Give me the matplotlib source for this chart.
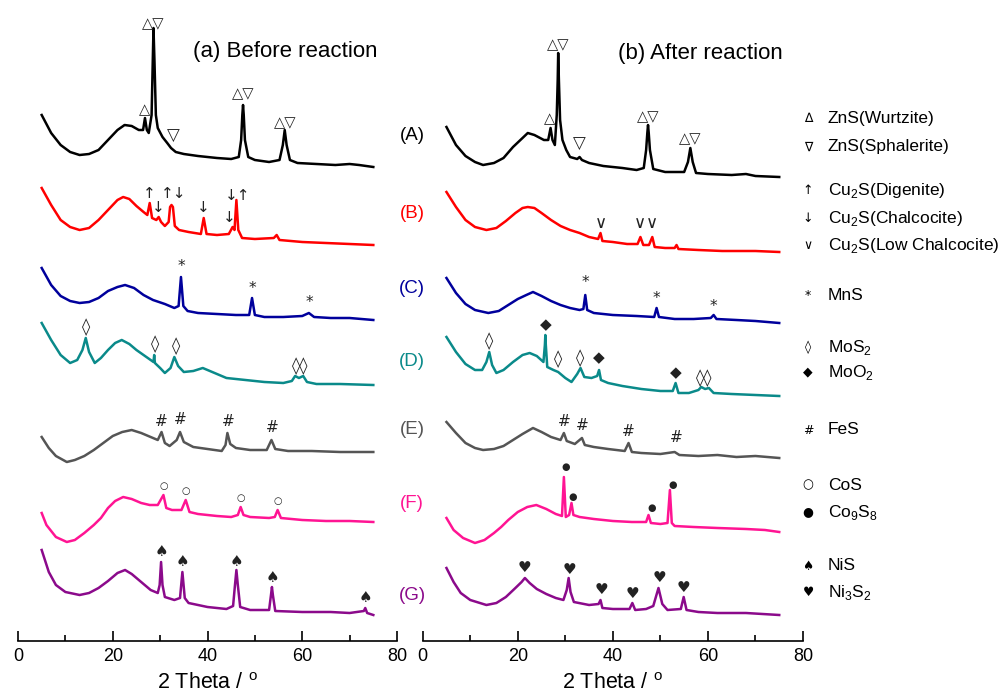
import numpy as np
import matplotlib.pyplot as plt
from matplotlib.ticker import MultipleLocator

plt.rcParams['font.family'] = ['Liberation Sans', 'DejaVu Sans']
plt.rcParams['mathtext.fontset'] = 'custom'
plt.rcParams['mathtext.rm'] = 'Liberation Sans'

# XRD patterns, intensity (a.u.) measured above the tail of each pattern
# ---- (a) before reaction ----
bA_x = [5, 7, 9, 11, 13, 15, 17, 19, 21, 22.5, 24, 25.5, 26.4, 26.8, 27.2, 27.6, 28.2, 28.45, 28.6, 28.8,
        29.1, 29.5, 30.5, 31.5, 32.3, 32.8, 33.3, 35, 38, 42, 45, 46.6, 47.1, 47.35, 47.5, 47.65, 47.9, 48.6,
        50, 53, 55.2, 55.9, 56.3, 56.7, 57.4, 59, 63, 67, 70, 72, 75]
bA_y = [52, 34, 22, 15, 12, 13, 17, 27, 37, 42, 41, 37, 37, 49, 37, 34, 52, 107, 139, 107,
        52, 39, 30, 24, 19, 17, 15, 13, 11, 9, 8, 10, 27, 52, 62, 52, 27, 10,
        7, 5, 7, 22, 37, 22, 7, 4, 3, 2, 3, 2, 0]

bB_x = [5, 7, 9, 11, 13, 15, 17, 19, 21, 22.2, 23.5, 25, 26.5, 27.3, 27.8, 28.3, 29.2, 29.7, 30.2, 31,
        31.8, 32.1, 32.4, 32.7, 33.1, 34, 36, 38.6, 39.2, 39.8, 42, 44.5, 45.3, 45.7, 46.1, 46.5, 47.3,
        50, 54, 54.6, 55.2, 60, 65, 70, 75]
bB_y = [57, 40, 25, 18, 15, 17, 25, 35, 45, 48, 46, 39, 33, 30, 42, 27, 25, 28, 23, 19,
        23, 38, 40, 38, 19, 15, 13, 11, 27, 11, 10, 11, 18, 15, 45, 15, 7,
        6, 7, 10, 5, 3, 2, 1, 0]

bC_x = [5, 7, 9, 11, 13, 15, 17, 19, 21, 22.6, 24.5, 26.5, 28.5, 31, 33, 33.9, 34.4, 34.9, 35.8, 38,
        42, 46, 48.8, 49.4, 50, 52, 56, 60, 61.4, 62.5, 66, 70, 75]
bC_y = [52, 35, 24, 19, 17, 18, 22, 29, 33, 35, 32, 25, 20, 16, 12, 14, 43, 14, 9, 7,
        6, 5, 5, 22, 5, 3, 3, 4, 7, 3, 2, 2, 0]

bD_x = [5, 7, 9, 11, 12.5, 13.6, 14.3, 15, 16.2, 17.5, 19, 20.5, 21.9, 23.5, 25, 26.5, 28, 28.6, 28.75,
        28.9, 30, 31, 32.2, 33, 33.8, 35, 37, 39, 41, 44, 48, 52, 56, 57.8, 58.5, 59.3, 60.2, 61, 63,
        68, 75]
bD_y = [62, 45, 30, 22, 25, 35, 47, 33, 22, 27, 35, 42, 45, 41, 35, 30, 25, 23, 30,
        22, 17, 12, 17, 28, 19, 13, 14, 17, 13, 7, 5, 3, 2, 4, 9, 7, 9, 3, 1,
        1, 0]

bE_x = [5, 6.5, 8, 10.3, 12, 14, 16, 18, 20, 22, 24, 26, 28, 29.5, 30.3, 31, 32, 33.5, 34.2, 35, 37,
        40, 43, 43.8, 44.2, 44.8, 46, 49, 52.5, 53.5, 54.3, 57, 62, 68, 75]
bE_y = [15, 4, -4, -10, -8, -4, 2, 9, 16, 20, 22, 19, 15, 12, 20, 9, 6, 12, 20, 10, 5,
        3, 1, 7, 19, 8, 4, 2, 2, 12, 3, 1, 1, 0, 0]

bF_x = [5, 6, 8, 10.3, 12, 14, 16, 17.5, 19, 20.5, 22.2, 24, 26, 27.8, 29.5, 30.7, 31.3, 32.5, 34.5,
        35.4, 36.2, 38, 42, 45, 46.4, 47, 47.6, 49, 53, 54.2, 54.8, 55.5, 60, 65, 70, 75]
bF_y = [9, -3, -15, -20, -18, -11, -3, 4, 14, 21, 25, 23, 19, 17, 17, 27, 14, 12, 12,
        22, 10, 8, 6, 5, 7, 15, 7, 5, 4, 5, 12, 4, 2, 1, 1, 0]

bG_x = [5, 6.5, 8, 10, 13, 15, 17, 19, 21, 22.6, 24, 26, 28, 29.5, 29.9, 30.2, 30.5, 31, 33, 34.2,
        34.7, 35.2, 36, 40, 44, 45.4, 45.8, 46.1, 46.4, 46.9, 49, 53, 53.4, 53.6, 53.8, 54.3, 60, 66,
        70, 73, 73.3, 73.7, 75]
bG_y = [65, 43, 30, 23, 20, 22, 27, 34, 42, 45, 41, 33, 25, 22, 30, 53, 30, 18, 15, 17,
        43, 17, 12, 8, 6, 9, 30, 45, 30, 8, 5, 5, 20, 28, 20, 4, 3, 3,
        2, 4, 7, 2, 0]

# ---- (b) after reaction ----
aA_x = [5, 7, 9, 11, 12.7, 15, 17, 19, 21, 22.1, 23.5, 25.5, 26.4, 26.9, 27.3, 27.8, 28.2, 28.4, 28.5,
        28.65, 28.9, 29.4, 30.2, 31, 32.5, 33, 33.5, 35, 38, 42, 45, 46.5, 47.0, 47.25, 47.4, 47.55,
        47.8, 48.5, 51, 55, 55.8, 56.3, 56.8, 57.5, 60, 65, 68, 70, 75]
aA_y = [50, 32, 21, 15, 12, 14, 19, 30, 39, 44, 42, 37, 37, 49, 37, 32, 62, 97, 124,
        97, 57, 37, 27, 20, 18, 20, 17, 14, 11, 9, 7, 9, 27, 44, 52, 44,
        27, 8, 5, 5, 15, 29, 15, 4, 3, 2, 3, 1, 0]

aB_x = [5, 7, 9, 11, 13.4, 15.5, 17.5, 19.5, 21, 22.1, 23.5, 25, 27, 29, 31, 33, 35, 36.9, 37.4, 37.8,
        40, 43, 45.2, 45.8, 46.4, 47.6, 48.3, 48.8, 51, 53, 53.4, 53.8, 58, 63, 70, 75]
aB_y = [60, 45, 32, 25, 22, 24, 31, 39, 44, 45, 44, 39, 32, 26, 22, 19, 15, 13, 19, 11,
        10, 8, 8, 15, 7, 7, 15, 5, 4, 4, 7, 3, 2, 1, 1, 0]

aC_x = [5, 7, 9, 11, 13.8, 16, 18, 20, 21.8, 23.2, 25, 27, 29, 31, 33, 33.8, 34.2, 34.6, 36, 40, 45,
        48.7, 49.2, 49.7, 53, 57, 60.6, 61.2, 61.8, 66, 70, 75]
aC_y = [45, 30, 19, 13, 10, 12, 18, 24, 28, 31, 27, 22, 18, 15, 13, 14, 28, 13, 10, 8, 7,
        6, 15, 6, 4, 4, 5, 8, 4, 3, 2, 0]

aD_x = [5, 7, 9, 11, 12.5, 13.4, 14, 14.6, 15.5, 17, 19, 21, 22.5, 24, 25.4, 25.7, 25.8, 25.9, 26.2,
        27.5, 28.5, 30, 31.3, 32.5, 33.2, 34, 35.5, 36.7, 37.1, 37.5, 39, 42, 46, 50, 52.6, 53.2, 53.8,
        56, 58, 58.6, 59.4, 60.2, 61.2, 65, 70, 75]
aD_y = [59, 44, 32, 26, 26, 34, 44, 31, 23, 26, 34, 41, 43, 40, 34, 51, 61, 51, 29,
        26, 24, 18, 14, 22, 28, 19, 18, 20, 26, 16, 13, 10, 7, 5, 5, 13, 3,
        3, 6, 9, 7, 8, 3, 2, 1, 0]

aE_x = [5, 7, 9, 11, 12.7, 15, 17, 19, 21, 23.2, 25, 27, 29, 29.7, 30.3, 32, 33.5, 34.1, 36, 39, 42.5,
        43.3, 44, 46, 50, 53, 54, 58, 62, 66, 70, 75]
aE_y = [36, 25, 15, 10, 8, 9, 12, 18, 24, 30, 26, 21, 18, 25, 17, 14, 20, 13, 11, 9, 7,
        15, 6, 5, 4, 6, 3, 2, 3, 1, 2, 0]

aF_x = [5, 6.5, 8.5, 11, 13, 15, 16.5, 18, 20, 22, 23.9, 26, 28, 29.3, 29.7, 30.1, 30.8, 31.3, 31.7,
        33, 36, 40, 44, 47, 47.5, 48, 50, 51.5, 52, 52.4, 53, 57, 62, 68, 72, 75]
aF_y = [14, 2, -6, -11, -8, -1, 5, 12, 20, 25, 27, 23, 18, 16, 55, 15, 17, 29, 17,
        15, 13, 11, 10, 10, 17, 9, 8, 9, 42, 9, 6, 5, 4, 3, 2, 0]

aG_x = [5, 6.5, 8, 10, 13.4, 15.5, 17.5, 19.5, 20.8, 21.5, 22.5, 24, 26, 28, 29.6, 30.3, 30.7, 31.1,
        31.8, 35, 37, 37.4, 37.8, 40, 43.5, 44.1, 44.7, 47, 48.5, 49.6, 50.4, 51.5, 54.3, 54.9, 55.5,
        58, 62, 68, 75]
aG_y = [47, 33, 22, 15, 10, 12, 18, 27, 33, 37, 32, 26, 21, 17, 15, 25, 37, 23,
        13, 10, 11, 15, 7, 6, 6, 12, 5, 6, 9, 27, 11, 5, 6, 18, 5,
        3, 2, 2, 0]

samples = ['(A)', '(B)', '(C)', '(D)', '(E)', '(F)', '(G)']
colors = ['#000000', '#ff0000', '#00009c', '#0a8a8a', '#555555', '#ff1493', '#8b0a8b']
before = [(bA_x, bA_y), (bB_x, bB_y), (bC_x, bC_y), (bD_x, bD_y), (bE_x, bE_y), (bF_x, bF_y), (bG_x, bG_y)]
after = [(aA_x, aA_y), (aB_x, aB_y), (aC_x, aC_y), (aD_x, aD_y), (aE_x, aE_y), (aF_x, aF_y), (aG_x, aG_y)]
shift_before = [474, 396, 321, 256, 189, 119, 26]
shift_after = [464, 389, 318, 245, 183, 109, 26]

# phase marks: (pattern, 2theta, symbol, gap above peak)
marks_before = [
    (0, 26.8, '△', 8), (0, 28.6, '△▽', 4), (0, 32.8, '▽', 12), (0, 47.5, '△▽', 11), (0, 56.3, '△▽', 7),
    (1, 27.8, '↑', 10), (1, 29.6, '↓', 10), (1, 32.9, '↑↓', 12), (1, 39.2, '↓', 10),
    (1, 44.6, '↓', 9), (1, 46.3, '↓↑', 5),
    (2, 34.4, '*', 10), (2, 49.4, '*', 10), (2, 61.4, '*', 11),
    (3, 14.3, '◊', 11), (3, 28.9, '◊', 11), (3, 33.3, '◊', 11), (3, 59.5, '◊◊', 10),
    (4, 30.3, '#', 11), (4, 34.2, '#', 13), (4, 44.4, '#', 11), (4, 53.6, '#', 12),
    (5, 30.8, '○', 9), (5, 35.4, '○', 9), (5, 47.0, '○', 9), (5, 54.9, '○', 9),
    (6, 30.2, '♠', 10), (6, 34.7, '♠', 10), (6, 46.1, '♠', 9), (6, 53.6, '♠', 10), (6, 73.3, '♠', 11),
]
marks_after = [
    (0, 26.7, '△', 9), (0, 28.5, '△▽', 8), (0, 33.0, '▽', 13), (0, 47.4, '△▽', 8), (0, 56.3, '△▽', 9),
    (1, 37.4, '∨', 10), (1, 45.8, '∨', 14), (1, 48.3, '∨', 14),
    (2, 34.2, '*', 12), (2, 49.2, '*', 10), (2, 61.2, '*', 8),
    (3, 14.0, '◊', 11), (3, 25.8, '◆', 10), (3, 28.5, '◊', 11), (3, 33.2, '◊', 10), (3, 37.1, '◆', 12),
    (3, 53.2, '◆', 10), (3, 59.3, '◊◊', 9),
    (4, 29.7, '#', 11), (4, 33.5, '#', 13), (4, 43.3, '#', 11), (4, 53.3, '#', 14),
    (5, 30.0, '●', 10), (5, 31.6, '●', 6), (5, 48.1, '●', 7), (5, 52.6, '●', 5),
    (6, 21.5, '♥', 10), (6, 30.9, '♥', 9), (6, 37.6, '♥', 10), (6, 44.1, '♥', 10), (6, 49.7, '♥', 10),
    (6, 54.9, '♥', 9),
]
sym_size = {'△': 10.5, '▽': 12, '↑': 11, '↓': 11, '∨': 12, '*': 11, '◊': 12, '◆': 11, '#': 11,
            '○': 7, '●': 7, '♠': 11, '♥': 11}

legend_items = [
    (119, '∆', 'ZnS(Wurtzite)'), (147, '∇', 'ZnS(Sphalerite)'),
    (190, '↑', 'Cu$_\\mathregular{2}$S(Digenite)'), (218, '↓', 'Cu$_\\mathregular{2}$S(Chalcocite)'),
    (246, '∨', 'Cu$_\\mathregular{2}$S(Low Chalcocite)'),
    (295, '*', 'MnS'),
    (347, '◊', 'MoS$_\\mathregular{2}$'), (372, '◆', 'MoO$_\\mathregular{2}$'),
    (430, '#', 'FeS'),
    (485, '○', 'CoS'), (512, '●', 'Co$_\\mathregular{9}$S$_\\mathregular{8}$'),
    (566, '♠', 'NiS'), (593, '♥', 'Ni$_\\mathregular{3}$S$_\\mathregular{2}$'),
]
label_rows = [135, 213, 288, 362, 430, 503, 595]

W, H = 1005, 695
fig = plt.figure(figsize=(W / 100, H / 100), dpi=100)
ax_b = fig.add_axes([18 / W, (H - 641) / H, (397 - 18) / W, 641 / H])
ax_a = fig.add_axes([422.7 / W, (H - 641) / H, (803 - 422.7) / W, 641 / H])


def draw_panel(ax, patterns, shifts, marks):
    for (x, y), s, c in zip(patterns, shifts, colors):
        ax.plot(x, np.array(y) + s, color=c, lw=1.8)
    for i, xm, sym, gap in marks:
        x = np.array(patterns[i][0])
        y = np.array(patterns[i][1]) + shifts[i]
        top = y[(x >= xm - 1.0) & (x <= xm + 1.0)].max()
        ax.text(xm, top + gap, sym, fontsize=sym_size[sym[0]], ha='center', va='center',
                family='DejaVu Sans', color='#222222')
    ax.set_xlim(0, 80)
    ax.set_ylim(0, 641)
    for sp in ['top', 'left', 'right']:
        ax.spines[sp].set_visible(False)
    ax.spines['bottom'].set_linewidth(1.2)
    ax.set_yticks([])
    ax.xaxis.set_major_locator(MultipleLocator(20))
    ax.xaxis.set_minor_locator(MultipleLocator(10))
    ax.tick_params(axis='x', which='major', direction='in', length=7, width=1.2, labelsize=13, pad=5)
    ax.tick_params(axis='x', which='minor', direction='in', length=4, width=1.2)
    ax.set_xlabel('2 Theta / $^\\mathregular{o}$', fontsize=15.5, labelpad=6)
    ax.patch.set_alpha(0)


draw_panel(ax_b, before, shift_before, marks_before)
draw_panel(ax_a, after, shift_after, marks_after)

fig.text(285 / W, 1 - 52 / H, '(a) Before reaction', fontsize=16, ha='center', va='center')
fig.text(700 / W, 1 - 53 / H, '(b) After reaction', fontsize=16, ha='center', va='center')

for lab, yy, c in zip(samples, label_rows, colors):
    fig.text(412 / W, 1 - yy / H, lab, fontsize=13.5, color=c, ha='center', va='center')

for yy, sym, txt in legend_items:
    fig.text(808 / W, 1 - yy / H, sym, fontsize=9, ha='center', va='center', family='DejaVu Sans')
    fig.text(828 / W, 1 - yy / H, txt, fontsize=12.5, ha='left', va='center')

fig.savefig('out.png', dpi=100)
